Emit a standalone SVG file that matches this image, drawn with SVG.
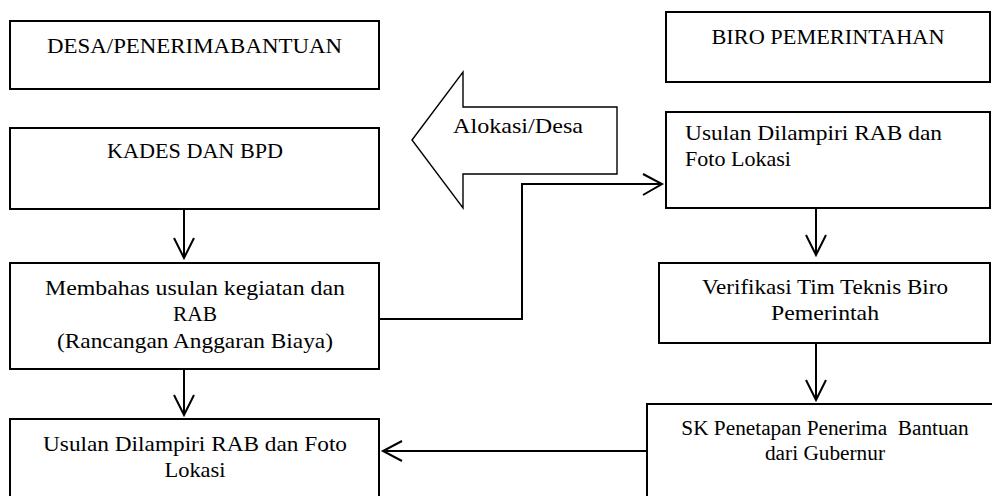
<svg xmlns="http://www.w3.org/2000/svg" width="992" height="496" viewBox="0 0 992 496">
<style>
.box{fill:#fff;stroke:#000;stroke-width:2}
.t{font-family:"Liberation Serif","Times New Roman",serif;font-size:22px;fill:#000;text-anchor:middle}
.tl{font-family:"Liberation Serif","Times New Roman",serif;font-size:22px;fill:#000}
.ts{font-family:"Liberation Serif","Times New Roman",serif;font-size:21.3px;fill:#000;text-anchor:middle;white-space:pre}
.c{fill:none;stroke:#000;stroke-width:2}
</style>
<rect width="992" height="496" fill="#fff"/>
<g id="desa"><rect class="box" x="10" y="21" width="369" height="68"/><text class="t" x="194.5" y="53" textLength="295" lengthAdjust="spacingAndGlyphs">DESA/PENERIMABANTUAN</text></g>
<g id="kades"><rect class="box" x="10" y="128" width="369" height="81"/><text class="t" x="195" y="158" textLength="176" lengthAdjust="spacingAndGlyphs">KADES DAN BPD</text></g>
<g id="membahas"><rect class="box" x="10" y="263" width="369" height="106"/>
<text class="t" x="195" y="295" textLength="300" lengthAdjust="spacingAndGlyphs">Membahas usulan kegiatan dan</text>
<text class="t" x="195" y="321" textLength="44" lengthAdjust="spacingAndGlyphs">RAB</text>
<text class="t" x="195" y="348" textLength="276" lengthAdjust="spacingAndGlyphs">(Rancangan Anggaran Biaya)</text></g>
<g id="usulan-desa"><rect class="box" x="10" y="419" width="369" height="90"/>
<text class="t" x="195" y="451" textLength="304" lengthAdjust="spacingAndGlyphs">Usulan Dilampiri RAB dan Foto</text>
<text class="t" x="195" y="477" textLength="61" lengthAdjust="spacingAndGlyphs">Lokasi</text></g>
<g id="alokasi"><polygon points="412,140 463,72 463,107 617,107 617,174 463,174 463,208" fill="#fff" stroke="#000" stroke-width="1.4"/>
<text class="t" x="518" y="133" textLength="130" lengthAdjust="spacingAndGlyphs">Alokasi/Desa</text></g>
<g id="biro"><rect class="box" x="666" y="12" width="324" height="70"/><text class="t" x="828" y="44" textLength="233" lengthAdjust="spacingAndGlyphs">BIRO PEMERINTAHAN</text></g>
<g id="usulan-biro"><rect class="box" x="666" y="112" width="324" height="96"/>
<text class="tl" x="685" y="140" textLength="257" lengthAdjust="spacingAndGlyphs">Usulan Dilampiri RAB dan</text>
<text class="tl" x="685" y="166" textLength="106" lengthAdjust="spacingAndGlyphs">Foto Lokasi</text></g>
<g id="verifikasi"><rect class="box" x="659" y="263" width="331" height="80"/>
<text class="t" x="825" y="294" textLength="246" lengthAdjust="spacingAndGlyphs">Verifikasi Tim Teknis Biro</text>
<text class="t" x="825" y="320" textLength="108" lengthAdjust="spacingAndGlyphs">Pemerintah</text></g>
<g id="sk"><rect class="box" x="647" y="404" width="360" height="100"/>
<text class="ts" x="825" y="435">SK Penetapan Penerima  Bantuan</text>
<text class="ts" x="825" y="460">dari Gubernur</text></g>
<g id="connectors">
<path class="c" d="M184,209 V258 M174,238 L184,258 L194,238"/>
<path class="c" d="M184,369 V415 M174,395 L184,415 L194,395"/>
<path class="c" d="M379,319 H522 V184 H662 M643,174 L662,184 L643,195"/>
<path class="c" d="M816,208 V255 M806,235 L816,255 L826,235"/>
<path class="c" d="M816,343 V400 M806,380 L816,400 L826,380"/>
<path class="c" d="M647,451 H383 M402,441 L383,451 L402,461"/>
</g>
</svg>
